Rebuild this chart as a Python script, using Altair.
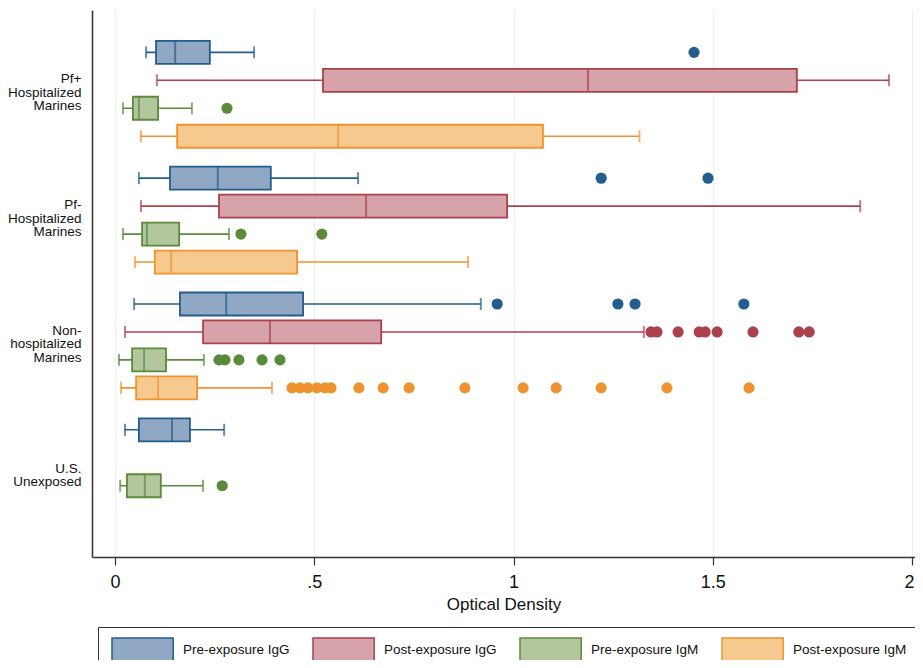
import altair as alt
import pandas as pd

# ---------------- data ----------------
groups = ["Pf+ Hospitalized Marines", "Pf- Hospitalized Marines",
          "Non-hospitalized Marines", "U.S. Unexposed"]
group_lines = [["Pf+", "Hospitalized", "Marines"],
               ["Pf-", "Hospitalized", "Marines"],
               ["Non-", "hospitalized", "Marines"],
               ["U.S.", "Unexposed"]]
series = ["Pre-exposure IgG", "Post-exposure IgG",
          "Pre-exposure IgM", "Post-exposure IgM"]

box_group  = [0, 0, 0, 0, 1, 1, 1, 1, 2, 2, 2, 2, 3, 3]
box_series = [0, 1, 2, 3, 0, 1, 2, 3, 0, 1, 2, 3, 0, 2]
whisk_lo = [0.078, 0.105, 0.020, 0.065, 0.060, 0.065, 0.020, 0.050, 0.048, 0.025, 0.010, 0.015, 0.025, 0.013]
q1       = [0.103, 0.522, 0.045, 0.156, 0.138, 0.261, 0.068, 0.100, 0.163, 0.221, 0.043, 0.053, 0.060, 0.030]
median   = [0.151, 1.187, 0.060, 0.560, 0.258, 0.630, 0.080, 0.141, 0.279, 0.389, 0.073, 0.108, 0.143, 0.075]
q3       = [0.238, 1.711, 0.108, 1.074, 0.391, 0.984, 0.161, 0.457, 0.472, 0.668, 0.128, 0.206, 0.188, 0.115]
whisk_hi = [0.349, 1.942, 0.193, 1.316, 0.610, 1.870, 0.286, 0.886, 0.918, 1.327, 0.223, 0.394, 0.274, 0.221]

out_group  = ([0, 0] + [1, 1, 1, 1] + [2] * 4 + [2] * 9 + [2] * 5 + [2] * 15 + [3])
out_series = ([0, 2] + [0, 0, 2, 2] + [0] * 4 + [1] * 9 + [2] * 5 + [3] * 15 + [2])
out_value  = ([1.453, 0.281] +
              [1.220, 1.488, 0.316, 0.519] +
              [0.959, 1.262, 1.305, 1.578] +
              [1.345, 1.360, 1.413, 1.466, 1.481, 1.511, 1.601, 1.716, 1.742] +
              [0.261, 0.276, 0.311, 0.369, 0.414] +
              [0.444, 0.464, 0.484, 0.507, 0.527, 0.542, 0.612, 0.673, 0.738,
               0.878, 1.024, 1.107, 1.220, 1.385, 1.591] +
              [0.269])

x_ticks = [0, 0.5, 1, 1.5, 2]

dark_colors = ["#225d8d", "#ac404c", "#5b8a3a", "#ef9330"]
fill_colors = ["#90a8c3", "#d6a3ab", "#b3c79f", "#f6c98e"]

# ---------------- tables ----------------
boxes = pd.DataFrame({
    "g": box_group,
    "series": [series[i] for i in box_series],
    "s": box_series,
    "lo": whisk_lo, "q1": q1, "med": median, "q3": q3, "hi": whisk_hi,
})
outs = pd.DataFrame({
    "g": out_group,
    "series": [series[i] for i in out_series],
    "s": out_series,
    "value": out_value,
})

FONT = "Liberation Sans"
GAP = 4.5  # slot units from one group to the next
LINE_H = 13.5

label_vals = [g * GAP + 1.5 for g in range(len(groups))]
expr = "''"
for v, lines in reversed(list(zip(label_vals, group_lines))):
    arr = "[" + ", ".join("'" + t + "'" for t in lines) + "]"
    expr = f"datum.value == {v} ? {arr} : {expr}"

# centre multi-line labels on their tick
two = [v for v, l in zip(label_vals, group_lines) if len(l) == 2]
test_two = " || ".join(f"datum.value == {v}" for v in two)
y_label_offset = {"condition": {"test": test_two, "value": -3.5},
                  "value": -LINE_H - 2}

yscale = alt.Scale(domain=[-1.336, 17.87], reverse=True, nice=False, zero=False)
xscale = alt.Scale(domain=[-0.0577, 2.0075], nice=False, zero=False)

pos = "datum.g * %s + datum.s" % GAP

x_axis = alt.Axis(values=x_ticks, grid=True, gridColor="#eceef1", gridWidth=1.2,
                  domainColor="#333333", domainWidth=1.5, tickColor="#333333",
                  tickSize=8, tickWidth=1.2, labelFontSize=18, labelFont=FONT,
                  labelColor="#111111", labelPadding=8, labelFlush=False,
                  labelOffset={"condition": {"test": "datum.value == 2", "value": -3}, "value": 0},
                  labelExpr="replace(format(datum.value, '~g'), '0.', '.')",
                  title="Optical Density", titleFont=FONT, titleFontSize=17,
                  titleFontWeight="normal", titleColor="#111111", titlePadding=5)
y_axis = alt.Axis(values=label_vals, grid=False, ticks=False, tickSize=0,
                  domainColor="#333333", domainWidth=1.5, labelExpr=expr,
                  labelFont=FONT, labelFontSize=13.5, labelLineHeight=LINE_H,
                  labelColor="#111111", labelPadding=11, labelAlign="right",
                  labelOffset=y_label_offset,
                  labelOverlap=False, labelFlush=False, title=None)

# dark colour scale listed in reverse so that it is not merged with the legend scales
color_enc = alt.Color("series:N",
                      scale=alt.Scale(domain=series[::-1], range=dark_colors[::-1]),
                      legend=None)


def make_legend():
    return alt.Legend(
        orient="none", legendX=6, legendY=617, direction="horizontal",
        columns=4, title=None,
        symbolType="M-0.75,-1H4.35V1H-0.75Z", symbolSize=576,
        symbolStrokeWidth=1.5, symbolOpacity=1,
        labelFont=FONT, labelFontSize=13.5, labelColor="#111111",
        labelOffset=49, columnPadding=19, padding=10,
        strokeColor="#333333", fillColor="white")


base = alt.Chart(boxes).transform_calculate(pos=pos)

whisker = base.mark_rule(strokeWidth=1.6).encode(
    x=alt.X("lo:Q", scale=xscale, axis=x_axis),
    x2="hi:Q",
    y=alt.Y("pos:Q", scale=yscale, axis=y_axis),
    color=color_enc,
)

box = base.mark_bar(orient="horizontal", size=23, strokeWidth=1.8, opacity=1).encode(
    x="q1:Q", x2="q3:Q", y="pos:Q",
    fill=alt.Fill("series:N", scale=alt.Scale(domain=series, range=fill_colors),
                  legend=make_legend()),
    stroke=alt.Stroke("series:N", scale=alt.Scale(domain=series, range=dark_colors),
                      legend=make_legend()),
)

med = base.mark_tick(orient="vertical", size=23, thickness=2).encode(
    x="med:Q", y="pos:Q", color=color_enc)
cap_lo = base.mark_tick(orient="vertical", size=12, thickness=2).encode(
    x="lo:Q", y="pos:Q", color=color_enc)
cap_hi = base.mark_tick(orient="vertical", size=12, thickness=2).encode(
    x="hi:Q", y="pos:Q", color=color_enc)

dots = alt.Chart(outs).transform_calculate(pos=pos).mark_circle(size=125, opacity=1).encode(
    x="value:Q", y="pos:Q", color=color_enc)

chart = alt.layer(whisker, box, med, cap_lo, cap_hi, dots).properties(
    width=823, height=547,
    padding={"left": 84, "top": 2, "right": 0, "bottom": 103},
    autosize=alt.AutoSizeParams(type="none"),
    background="white",
).configure_view(stroke=None)

chart.save("out.html", embed_options={"renderer": "svg", "actions": False})
